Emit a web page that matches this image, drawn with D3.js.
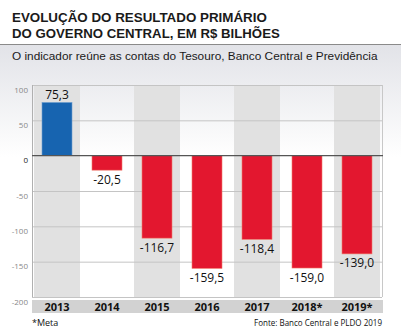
<!DOCTYPE html>
<html><head><meta charset="utf-8">
<script src="https://cdn.jsdelivr.net/npm/d3@7"></script>
<style>body{margin:0;background:#fff}svg{display:block}</style>
</head><body>
<script>
const years = ["2013","2014","2015","2016","2017","2018*","2019*"];
const values = [75.3,-20.5,-116.7,-159.5,-118.4,-159.0,-139.0];
const valueLabels = ["75,3","-20,5","-116,7","-159,5","-118,4","-159,0","-139,0"];
const yTicks = [100,50,0,-50,-100,-150,-200];
const titleLines = ["EVOLUÇÃO DO RESULTADO PRIMÁRIO","DO GOVERNO CENTRAL, EM R$ BILHÕES"];
const subtitle = "O indicador reúne as contas do Tesouro, Banco Central e Previdência";
const note = "*Meta";
const source = "Fonte: Banco Central e PLDO 2019";

const W=401,H=333;
const L=32,R=382,T=85,B=297;
const svg=d3.select("body").append("svg").attr("width",W).attr("height",H);
const defs=svg.append("defs");
const g=defs.append("linearGradient").attr("id","bg").attr("x1",0).attr("y1",0).attr("x2",0).attr("y2",1);
g.append("stop").attr("offset","0%").attr("stop-color","#e2e3e8");
g.append("stop").attr("offset","100%").attr("stop-color","#ffffff");
svg.append("rect").attr("x",0).attr("y",45).attr("width",W).attr("height",112).attr("fill","url(#bg)");
svg.append("line").attr("x1",0).attr("x2",W).attr("y1",44.5).attr("y2",44.5).attr("stroke","#8a8a8a").attr("stroke-width",1);

const font="'Liberation Sans Narrow','Arial Narrow','Liberation Sans',sans-serif";
const tFont="'Open Sans','Noto Sans',sans-serif";

function fit(sel,target,maxSize){
  const w=sel.node().getComputedTextLength();
  const fs=+sel.attr("font-size");
  sel.attr("font-size",Math.min(maxSize,fs*target/w));
}
[[21.5,255],[38,268]].forEach((p,i)=>{
  const t=svg.append("text").attr("x",12).attr("y",p[0]).text(titleLines[i])
   .attr("font-family",font).attr("font-weight","bold").attr("font-size",15).attr("fill","#1a1a1a");
  fit(t,p[1],16);
});
const st=svg.append("text").attr("x",12).attr("y",59.5).text(subtitle)
  .attr("font-family","'Liberation Sans Narrow','Liberation Sans',sans-serif").attr("font-size",13).attr("fill","#1a1a1a");
fit(st,366,14);

const x=d3.scaleBand().domain(years).range([L,R]).paddingInner(0.4).paddingOuter(0.2);
const y=d3.scaleLinear().domain([-200,100]).range([B,T]);

// alternating bands
years.forEach((yr,i)=>{
  if(i%2===0){
    const c=x(yr)+x.bandwidth()/2;
    const x0=Math.max(L,c-23), x1=Math.min(R,c+23);
    svg.append("rect").attr("x",x0).attr("y",T).attr("width",x1-x0).attr("height",B-T).attr("fill","#e1e1e1");
  }
});
// gridlines
svg.append("g").selectAll("line").data(yTicks.filter(d=>d!==0)).join("line")
  .attr("x1",L).attr("x2",R).attr("y1",d=>y(d)+0.5).attr("y2",d=>y(d)+0.5)
  .attr("stroke","#c4c4c4").attr("stroke-width",1);
svg.append("line").attr("x1",R+0.5).attr("x2",R+0.5).attr("y1",T).attr("y2",B).attr("stroke","#c8c8c8");
svg.append("line").attr("x1",L+0.5).attr("x2",L+0.5).attr("y1",T).attr("y2",B).attr("stroke","#b0b0b0");

// y axis labels
const yAxis=d3.axisLeft(y).tickValues(yTicks).tickSize(0).tickPadding(4).tickFormat(d=>d);
const ya=svg.append("g").attr("transform",`translate(${L},0)`).call(yAxis);
ya.select(".domain").remove();
ya.selectAll("text").attr("font-family",tFont).attr("font-size",8).attr("fill",d=>d===0?"#222":"#888").attr("dy","0.9em");

// bars
svg.append("g").selectAll("rect").data(values).join("rect")
  .attr("x",(d,i)=>x(years[i])).attr("width",x.bandwidth())
  .attr("y",d=>y(Math.max(0,d))).attr("height",d=>Math.abs(y(d)-y(0)))
  .attr("fill",d=>d>=0?"#1764b0":"#e3172f")
  .attr("stroke",d=>d>=0?"#6f9fd0":"#f07a6a").attr("stroke-width",0.6);

// zero line
svg.append("line").attr("x1",L).attr("x2",R+1).attr("y1",y(0)).attr("y2",y(0)).attr("stroke","#555").attr("stroke-width",1.2);

// value labels
svg.append("g").selectAll("text").data(values).join("text")
  .attr("x",(d,i)=>x(years[i])+x.bandwidth()/2)
  .attr("y",d=>d>=0?y(d)-3.5:y(d)+13.5)
  .attr("text-anchor","middle").attr("font-family",tFont).attr("font-size",12).attr("fill","#111")
  .text((d,i)=>valueLabels[i]);

// x axis band
svg.append("rect").attr("x",L).attr("y",B+3).attr("width",R-L+1).attr("height",13).attr("fill","#d2d2d2");
const xAxis=d3.axisBottom(x).tickSize(0).tickPadding(0);
const xa=svg.append("g").attr("transform",`translate(0,${B+3})`).call(xAxis);
xa.select(".domain").remove();
xa.selectAll("text").attr("font-family",tFont).attr("font-weight","bold")
  .attr("font-size",11).attr("fill","#111").attr("dy","0").attr("y",11);

svg.append("text").attr("x",32).attr("y",326).text(note).attr("font-family",tFont).attr("font-size",9).attr("fill","#111");
const src=svg.append("text").attr("x",382).attr("y",326).attr("text-anchor","end").text(source)
  .attr("font-family",tFont).attr("font-size",9).attr("fill","#111");
fit(src,128,9.5);
</script>
</body></html>
